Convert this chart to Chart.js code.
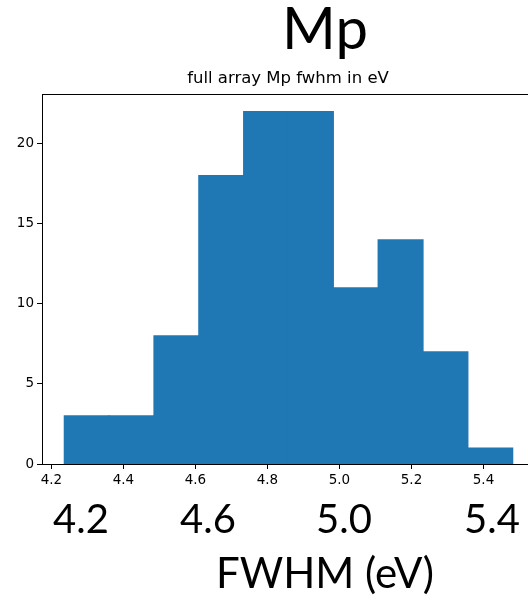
<!DOCTYPE html>
<html>
<head>
  <meta charset="utf-8">
  <script src="https://cdn.jsdelivr.net/npm/chart.js"></script>
  <style>
    html, body { margin: 0; padding: 0; background: #fff; overflow: hidden; }
    #wrap { position: relative; width: 528px; height: 600px; overflow: hidden; }
    #hist { position: absolute; left: 0; top: 0; }
    .big { position: absolute; font-family: Lato, sans-serif; color: #000; line-height: 1; white-space: nowrap; transform: translateX(-50%); }
    #plotTitle { position: absolute; font-family: "DejaVu Sans", sans-serif; font-size: 16.5px; color: #000; line-height: 1; white-space: nowrap; transform: translateX(-50%); }
  </style>
</head>
<body>
<div id="wrap">
  <canvas id="hist" width="545" height="600"></canvas>
  <div class="big" style="left:325px; top:-2px; font-size:58px;">Mp</div>
  <div id="plotTitle" style="left:288px; top:70px;">full array Mp fwhm in eV</div>
  <div class="big" style="left:81px; top:498px; font-size:40px;">4.2</div>
  <div class="big" style="left:208px; top:498px; font-size:40px;">4.6</div>
  <div class="big" style="left:344px; top:498px; font-size:40px;">5.0</div>
  <div class="big" style="left:492px; top:498px; font-size:40px;">5.4</div>
  <div class="big" style="left:325px; top:551px; font-size:42px;">FWHM (eV)</div>
</div>
<script>
  // histogram of fwhm values (eV)
  const binEdges = [4.236, 4.3605, 4.485, 4.6095, 4.734, 4.8585, 4.983, 5.1075, 5.232, 5.3565, 5.481];
  const counts = [3, 3, 8, 18, 22, 22, 11, 14, 7, 1];
  const xTickValues = [4.2, 4.4, 4.6, 4.8, 5.0, 5.2, 5.4];
  const yTickValues = [0, 5, 10, 15, 20];

  const bars = counts.map((c, i) => ({ x: (binEdges[i] + binEdges[i + 1]) / 2, y: c }));

  // matplotlib-style top spine
  const topSpine = {
    id: 'topSpine',
    afterDraw(chart) {
      const { ctx, chartArea } = chart;
      ctx.save();
      ctx.strokeStyle = '#000';
      ctx.lineWidth = 1;
      ctx.beginPath();
      ctx.moveTo(chartArea.left, chartArea.top + 0.5);
      ctx.lineTo(chartArea.right, chartArea.top + 0.5);
      ctx.stroke();
      ctx.restore();
    }
  };

  Chart.defaults.font.family = '"DejaVu Sans", sans-serif';
  Chart.defaults.font.size = 13.5;
  Chart.defaults.color = '#000';

  new Chart(document.getElementById('hist'), {
    type: 'bar',
    data: {
      datasets: [{
        data: bars,
        backgroundColor: '#1f77b4',
        borderWidth: 0,
        inflateAmount: 0.6,
        barPercentage: 1,
        categoryPercentage: 1
      }]
    },
    options: {
      responsive: false,
      animation: false,
      layout: { padding: { top: 94, right: 10, bottom: 0, left: 0 } },
      plugins: { legend: { display: false }, tooltip: { enabled: false } },
      scales: {
        x: {
          type: 'linear',
          min: 4.174,
          max: 5.543,
          offset: false,
          afterBuildTicks: s => { s.ticks = xTickValues.map(v => ({ value: v })); },
          afterFit: s => { s.height = 136; },
          grid: { offset: false, drawOnChartArea: false, tickLength: 5, color: '#000' },
          border: { color: '#000', width: 1 },
          ticks: { padding: 3, callback: v => v.toFixed(1) }
        },
        y: {
          min: 0,
          max: 23.1,
          afterBuildTicks: s => { s.ticks = yTickValues.map(v => ({ value: v })); },
          afterFit: s => { s.width = 42; },
          grid: { drawOnChartArea: false, tickLength: 5, color: '#000' },
          border: { color: '#000', width: 1 },
          ticks: { padding: 3 }
        }
      }
    },
    plugins: [topSpine]
  });
</script>
</body>
</html>
